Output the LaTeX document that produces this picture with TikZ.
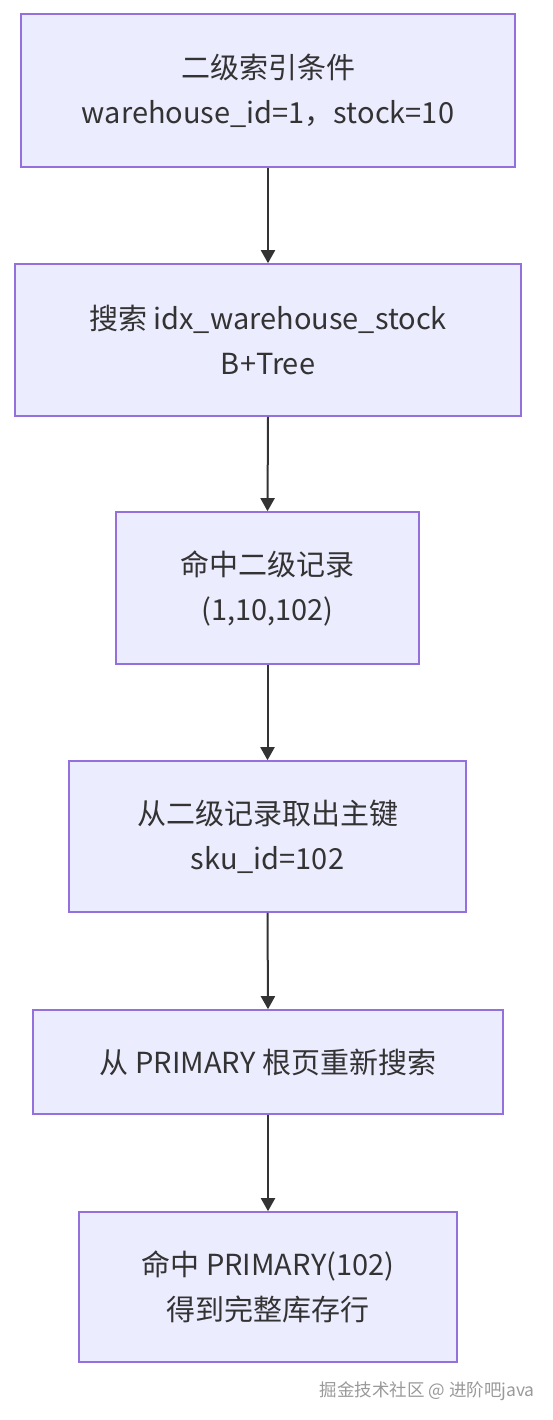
\documentclass[tikz,border=0pt]{standalone}
\usepackage{fontspec}
\setmainfont{Noto Sans CJK SC}
\usetikzlibrary{arrows.meta}
\definecolor{boxfill}{HTML}{ECECFF}
\definecolor{boxdraw}{HTML}{9370DB}
\definecolor{ink}{HTML}{333333}
\tikzset{
  flowbox/.style={draw=boxdraw, fill=boxfill, line width=1.6pt, inner sep=0pt,
    align=center, text=ink, font=\fontsize{29}{45}\selectfont},
  flowarrow/.style={draw=ink, line width=2pt, -{Triangle[width=14pt,length=13pt]}},
}
\begin{document}
\begin{tikzpicture}[x=1pt,y=-1pt]
\useasboundingbox (0,0) rectangle (552,1420);
\node[flowbox, minimum width=494pt, minimum height=153pt] (n1) at (268,90.5) {二级索引条件\\warehouse\_id=1，stock=10};
\node[flowbox, minimum width=506pt, minimum height=152pt] (n2) at (268,340) {搜索 idx\_warehouse\_stock\\B+Tree};
\node[flowbox, minimum width=303pt, minimum height=152pt] (n3) at (267.5,588) {命中二级记录\\(1,10,102)};
\node[flowbox, minimum width=397pt, minimum height=151pt] (n4) at (267.5,836.5) {从二级记录取出主键\\sku\_id=102};
\node[flowbox, minimum width=470pt, minimum height=104pt] (n5) at (268,1062) {从 PRIMARY 根页重新搜索};
\node[flowbox, minimum width=378pt, minimum height=150pt] (n6) at (268,1287) {命中 PRIMARY(102)\\得到完整库存行};
\draw[flowarrow] (n1.south) -- (n2.north);
\draw[flowarrow] (n2.south) -- (n3.north);
\draw[flowarrow] (n3.south) -- (n4.north);
\draw[flowarrow] (n4.south) -- (n5.north);
\draw[flowarrow] (n5.south) -- (n6.north);
\node[anchor=east, text=gray!80, font=\fontsize{17.5}{19}\selectfont, inner sep=0pt] (wm) at (535,1391) {掘金技术社区 @ 进阶吧java};
\end{tikzpicture}
\end{document}
